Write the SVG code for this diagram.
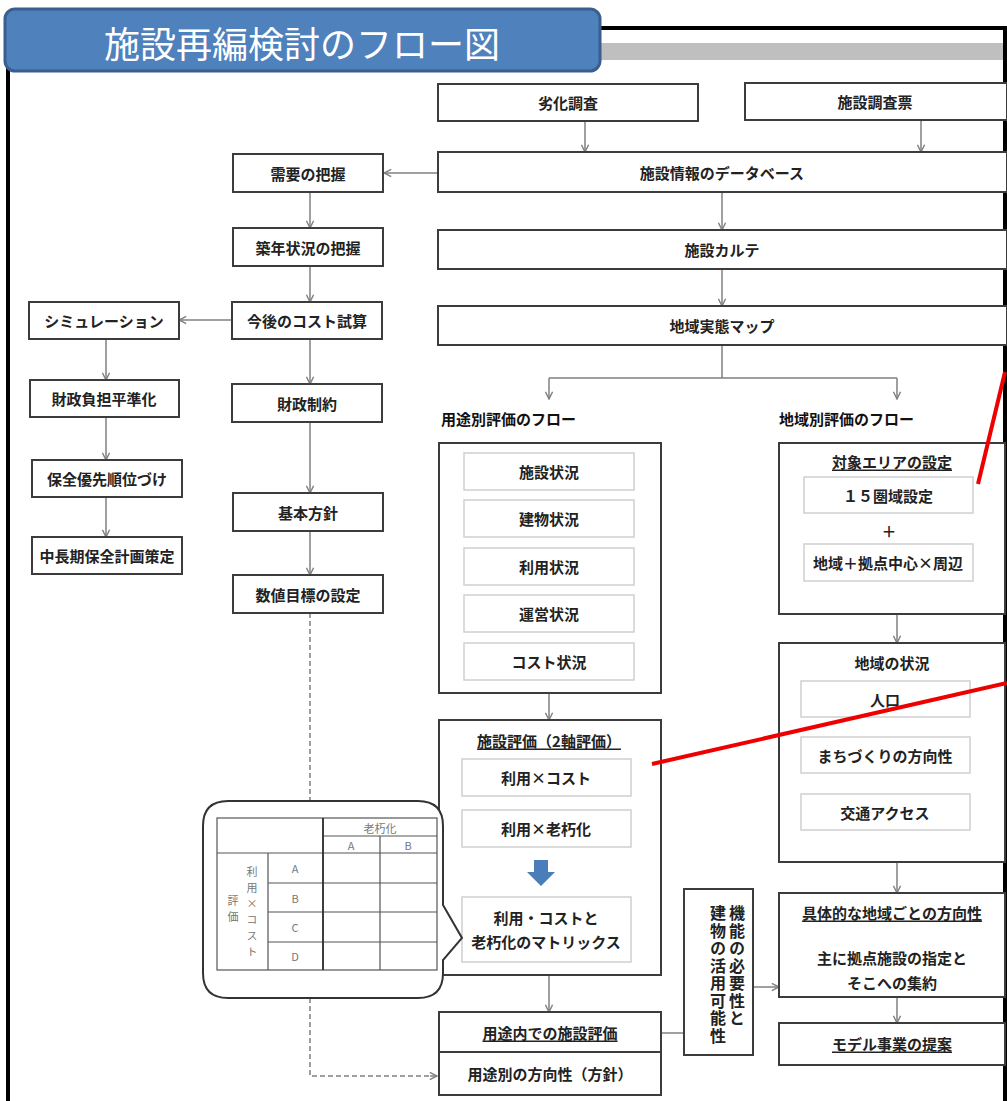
<svg xmlns="http://www.w3.org/2000/svg" width="1007" height="1101" viewBox="0 0 1007 1101">
<defs>
<marker id="ah" viewBox="0 0 10 10" refX="9" refY="5" markerWidth="9" markerHeight="9" markerUnits="userSpaceOnUse" orient="auto">
<path d="M1,1 L9,5 L1,9" fill="none" stroke="#808080" stroke-width="1.6"/>
</marker>
<style>
.box{fill:#fff;stroke:#3c3c3c;stroke-width:2}
.ibox{fill:#fff;stroke:#cfcfcf;stroke-width:1.5}
.t{font-family:"Noto Sans CJK JP","Noto Sans",sans-serif;font-size:15px;font-weight:bold;fill:#222;text-anchor:middle;dominant-baseline:central}
.h{font-family:"Noto Sans CJK JP","Noto Sans",sans-serif;font-size:15px;font-weight:bold;fill:#111;dominant-baseline:central}
.u{text-decoration:underline}
.c{stroke:#808080;stroke-width:1.5;fill:none;marker-end:url(#ah)}
.l{stroke:#808080;stroke-width:1.5;fill:none}
.d{stroke:#808080;stroke-width:1.5;fill:none;stroke-dasharray:5,3}
.tb{stroke:#555;stroke-width:1.2;fill:none}
.st{font-family:"Noto Sans CJK JP","Noto Sans",sans-serif;font-size:11px;fill:#777;text-anchor:middle;dominant-baseline:central}
.vt{font-family:"Noto Sans CJK JP","Noto Sans",sans-serif;font-size:16px;font-weight:bold;fill:#222;writing-mode:vertical-rl;letter-spacing:1.5px}
.red{stroke:#ee0000;stroke-width:4;fill:none}
</style>
</defs>
<rect width="1007" height="1101" fill="#fff"/>
<!-- frame -->
<rect x="600" y="43" width="405" height="17" fill="#bfbfbf"/>
<rect x="8" y="28" width="997" height="1085" fill="none" stroke="#000" stroke-width="4"/>
<g id="title">
<rect x="5" y="9" width="595" height="62" rx="10" fill="#4f81bd" stroke="#3a5f8f" stroke-width="3"/>
<text x="302" y="42" font-family="'Noto Sans CJK JP',sans-serif" font-size="36" fill="#fff" text-anchor="middle" dominant-baseline="central">施設再編検討のフロー図</text>
</g>
<g id="connectors">
<path class="c" d="M585,121 V152"/>
<path class="c" d="M921,120 V152"/>
<path class="c" d="M438,173 H384"/>
<path class="c" d="M722,192 V230"/>
<path class="c" d="M722,269 V306"/>
<path class="l" d="M722,345 V378 M549,378 H897"/>
<path class="c" d="M549,378 V399"/>
<path class="c" d="M897,378 V399"/>
<path class="c" d="M310,192 V228"/>
<path class="c" d="M310,266 V302"/>
<path class="c" d="M232,320 H179"/>
<path class="c" d="M310,339 V384"/>
<path class="c" d="M310,422 V493"/>
<path class="c" d="M310,531 V575"/>
<path class="c" d="M106,339 V380"/>
<path class="c" d="M106,417 V460"/>
<path class="c" d="M106,497 V537"/>
<path class="d" d="M310,613 V801"/>
<path class="d" d="M310,998 V1076 H430"/>
<path class="c" d="M430,1076 H437"/>
<path class="c" d="M549,693 V720"/>
<path class="c" d="M549,975 V1012"/>
<path class="l" d="M661,1033 H684"/>
<path class="c" d="M753,987 H779"/>
<path class="c" d="M897,614 V643"/>
<path class="c" d="M897,862 V893"/>
<path class="c" d="M897,997 V1023"/>
</g>
<g id="n-rekka"><rect class="box" x="438" y="84" width="260" height="37"/><text class="t" x="568" y="102">劣化調査</text></g>
<g id="n-chosahyo"><rect class="box" x="745" y="83" width="262" height="37"/><text class="t" x="875" y="101">施設調査票</text></g>
<g id="n-db"><rect class="box" x="438" y="152" width="569" height="40"/><text class="t" x="722" y="172">施設情報のデータベース</text></g>
<g id="n-karte"><rect class="box" x="438" y="230" width="569" height="39"/><text class="t" x="722" y="249">施設カルテ</text></g>
<g id="n-map"><rect class="box" x="438" y="306" width="569" height="39"/><text class="t" x="722" y="325">地域実態マップ</text></g>
<g id="n-juyo"><rect class="box" x="233" y="154" width="150" height="38"/><text class="t" x="308" y="173">需要の把握</text></g>
<g id="n-chikunen"><rect class="box" x="233" y="228" width="150" height="38"/><text class="t" x="308" y="247">築年状況の把握</text></g>
<g id="n-cost"><rect class="box" x="232" y="302" width="150" height="37"/><text class="t" x="307" y="320">今後のコスト試算</text></g>
<g id="n-sim"><rect class="box" x="29" y="302" width="150" height="37"/><text class="t" x="104" y="320">シミュレーション</text></g>
<g id="n-heijun"><rect class="box" x="30" y="380" width="149" height="37"/><text class="t" x="104" y="398">財政負担平準化</text></g>
<g id="n-seiyaku"><rect class="box" x="232" y="384" width="150" height="38"/><text class="t" x="307" y="403">財政制約</text></g>
<g id="n-yusen"><rect class="box" x="32" y="460" width="150" height="37"/><text class="t" x="107" y="478">保全優先順位づけ</text></g>
<g id="n-hoshin"><rect class="box" x="233" y="493" width="150" height="38"/><text class="t" x="308" y="512">基本方針</text></g>
<g id="n-chucho"><rect class="box" x="32" y="537" width="150" height="37"/><text class="t" x="107" y="555">中長期保全計画策定</text></g>
<g id="n-mokuhyo"><rect class="box" x="233" y="575" width="150" height="38"/><text class="t" x="308" y="594">数値目標の設定</text></g>
<g id="h-yoto"><text class="h" x="441" y="418">用途別評価のフロー</text></g>
<g id="h-chiiki"><text class="h" x="779" y="418">地域別評価のフロー</text></g>
<g id="n-jokyo">
<rect class="box" x="439" y="443" width="222" height="250"/>
<rect class="ibox" x="464" y="453" width="170" height="37"/><text class="t" x="549" y="471">施設状況</text>
<rect class="ibox" x="464" y="500" width="170" height="37"/><text class="t" x="549" y="518">建物状況</text>
<rect class="ibox" x="464" y="548" width="170" height="37"/><text class="t" x="549" y="566">利用状況</text>
<rect class="ibox" x="464" y="595" width="170" height="37"/><text class="t" x="549" y="613">運営状況</text>
<rect class="ibox" x="464" y="643" width="170" height="37"/><text class="t" x="549" y="661">コスト状況</text>
</g>
<g id="n-hyoka">
<rect class="box" x="439" y="720" width="222" height="255"/>
<text class="t u" x="549" y="740">施設評価（2軸評価）</text>
<rect class="ibox" x="462" y="759" width="169" height="37"/><text class="t" x="546" y="777">利用×コスト</text>
<rect class="ibox" x="462" y="810" width="169" height="37"/><text class="t" x="546" y="828">利用×老朽化</text>
<path d="M534,860 H548 V872 H555 L541,886 L527,872 H534 Z" fill="#4a7ebb"/>
<rect class="ibox" x="462" y="897" width="169" height="65"/>
<text class="t" x="546" y="917">利用・コストと</text>
<text class="t" x="546" y="941">老朽化のマトリックス</text>
</g>
<g id="n-yotonai">
<rect class="box" x="439" y="1012" width="222" height="40"/><text class="t u" x="550" y="1032">用途内での施設評価</text>
<rect class="box" x="439" y="1052" width="222" height="43"/><text class="t" x="550" y="1073">用途別の方向性（方針）</text>
</g>
<g id="n-vertical">
<rect class="box" x="684" y="889" width="69" height="166"/>
<text class="vt" x="737" y="905">機能の必要性と</text>
<text class="vt" x="718" y="905">建物の活用可能性</text>
</g>
<g id="n-area">
<rect class="box" x="779" y="443" width="226" height="171"/>
<text class="t u" x="892" y="461">対象エリアの設定</text>
<rect class="ibox" x="804" y="477" width="169" height="36"/><text class="t" x="888" y="495">１５圏域設定</text>
<text class="t" x="889" y="530">＋</text>
<rect class="ibox" x="804" y="544" width="169" height="37"/><text class="t" x="888" y="562">地域＋拠点中心×周辺</text>
</g>
<g id="n-chiikijokyo">
<rect class="box" x="779" y="643" width="226" height="219"/>
<text class="t" x="892" y="662">地域の状況</text>
<rect class="ibox" x="801" y="681" width="169" height="36"/><text class="t" x="885" y="699">人口</text>
<rect class="ibox" x="801" y="737" width="169" height="36"/><text class="t" x="885" y="755">まちづくりの方向性</text>
<rect class="ibox" x="801" y="794" width="169" height="36"/><text class="t" x="885" y="812">交通アクセス</text>
</g>
<g id="n-gutai">
<rect class="box" x="779" y="893" width="226" height="104"/>
<text class="t u" x="892" y="912">具体的な地域ごとの方向性</text>
<text class="t" x="892" y="957">主に拠点施設の指定と</text>
<text class="t" x="892" y="982">そこへの集約</text>
</g>
<g id="n-model"><rect class="box" x="779" y="1023" width="226" height="42"/><text class="t u" x="892" y="1043">モデル事業の提案</text></g>
<g id="n-callout">
<path d="M228,801 H418 Q443,801 443,826 V905 L462,938 L443,960 V973 Q443,998 418,998 H228 Q203,998 203,973 V826 Q203,801 228,801 Z" fill="#fff" stroke="#333" stroke-width="2"/>
<rect class="tb" x="217" y="818" width="220" height="152"/>
<path class="tb" d="M217,853 H437 M323,836 H437 M268,853 V970 M323,818 V970 M380,836 V970 M268,883 H437 M268,912 H437 M268,942 H437"/>
<path d="M323,818 V970" stroke="#333" stroke-width="1.8"/>
<text class="st" x="380" y="828">老朽化</text>
<text class="st" x="351" y="845">A</text>
<text class="st" x="408" y="845">B</text>
<text class="st" x="295" y="868">A</text>
<text class="st" x="295" y="898">B</text>
<text class="st" x="295" y="927">C</text>
<text class="st" x="295" y="956">D</text>
<text class="st" x="252" y="866" style="writing-mode:vertical-rl;text-anchor:start;letter-spacing:5px">利用×コスト</text>
<text class="st" x="233" y="895" style="writing-mode:vertical-rl;text-anchor:start;letter-spacing:5px">評価</text>
</g>
<g id="red-lines">
<path class="red" d="M652,764 L1007,683"/>
<path class="red" d="M978,484 L1005,372"/>
</g>
</svg>
